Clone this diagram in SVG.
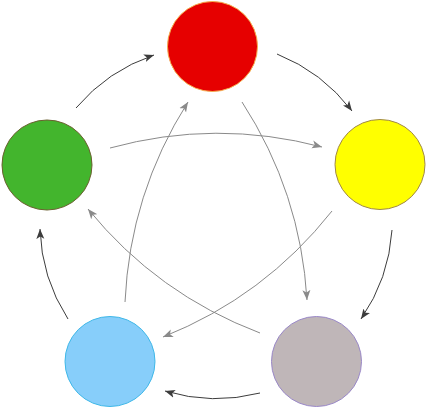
<svg xmlns="http://www.w3.org/2000/svg" width="426" height="408" viewBox="0 0 426 408">
<style>
.outer{fill:none;stroke:#3c3c3c;stroke-width:1;marker-end:url(#ad)}
.inner{fill:none;stroke:#8a8a8a;stroke-width:1;marker-end:url(#ag)}
</style>
<defs>
<marker id="ad" markerUnits="userSpaceOnUse" markerWidth="11" markerHeight="9" refX="10" refY="4.5" orient="auto" viewBox="0 0 11 9">
<path d="M0,0.5 L10,4.5 L0,8.5 L2.5,4.5 z" fill="#3c3c3c"/>
</marker>
<marker id="ag" markerUnits="userSpaceOnUse" markerWidth="11" markerHeight="9" refX="10" refY="4.5" orient="auto" viewBox="0 0 11 9">
<path d="M0,0.5 L10,4.5 L0,8.5 L2.5,4.5 z" fill="#8a8a8a"/>
</marker>
</defs>
<rect width="426" height="408" fill="#ffffff"/>
<g id="connectors">
<path class="outer" d="M76,108 A176,176 0 0,1 154,55"/>
<path class="outer" d="M277,54 A176,176 0 0,1 352,111"/>
<path class="outer" d="M392,230 A176,176 0 0,1 361,319"/>
<path class="outer" d="M260,393 A176,176 0 0,1 165,391"/>
<path class="outer" d="M68,319 A176,176 0 0,1 40,229"/>
<path class="inner" d="M110,148 A408,408 0 0,1 322,147"/>
<path class="inner" d="M242,102 A408,408 0 0,1 307,300"/>
<path class="inner" d="M332,211 A408,408 0 0,1 163,337"/>
<path class="inner" d="M260,333 A408,408 0 0,1 88,209"/>
<path class="inner" d="M125,302 A408,408 0 0,1 188,102"/>
</g>
<g id="red"><circle cx="212.5" cy="46.5" r="45" fill="#e60000" stroke="#f5b050" stroke-width="1"/></g>
<g id="yellow"><circle cx="380" cy="164.5" r="45" fill="#ffff00" stroke="#a08848" stroke-width="1"/></g>
<g id="grey"><circle cx="316.5" cy="361.5" r="45" fill="#bfb6b8" stroke="#9a88c8" stroke-width="1"/></g>
<g id="blue"><circle cx="110" cy="361.5" r="45" fill="#87cefa" stroke="#40b8e8" stroke-width="1"/></g>
<g id="green"><circle cx="47" cy="165" r="45" fill="#43b52d" stroke="#6b6030" stroke-width="1"/></g>
</svg>
